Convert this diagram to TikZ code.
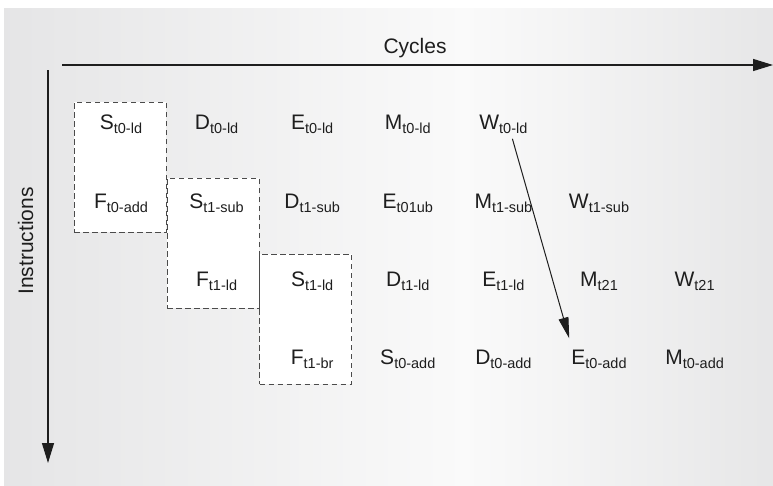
\documentclass[tikz,border=0pt]{standalone}
\usepackage{fontspec}
\setmainfont{Liberation Sans}
\usetikzlibrary{arrows.meta,calc}
\definecolor{bgleft}{RGB}{212,212,214}
\definecolor{bgright}{RGB}{206,206,208}
\definecolor{bgmid}{RGB}{250,250,250}
\definecolor{ink}{RGB}{30,30,30}
\definecolor{dashc}{RGB}{75,75,75}
\pgfdeclarehorizontalshading{bgsh}{100bp}{color(0bp)=(bgleft); color(55bp)=(bgmid); color(100bp)=(bgright)}
\newcommand{\sbs}[1]{\raisebox{-4.5pt}{\fontsize{14.5}{16}\selectfont #1}}
\begin{document}
\begin{tikzpicture}[x=1pt,y=-1pt,
  stage/.style={anchor=base,inner sep=1pt,text=ink,font=\fontsize{21}{24}\selectfont},
  axislabel/.style={anchor=base,inner sep=0pt,text=ink,font=\fontsize{21}{24}\selectfont},
  dashbox/.style={draw=dashc,fill=white,line width=0.9pt,dash pattern=on 5.5pt off 3.5pt,
    minimum width=92pt,minimum height=130pt,inner sep=0pt},
  axis/.style={draw=ink,line width=1.3pt,-{Triangle[length=20pt,width=12pt]}},
  dep/.style={draw=ink,line width=1pt,-{Triangle[length=21pt,width=10pt]}}]
\useasboundingbox (0,0) rectangle (773,485);
\shade[shading=bgsh] (4,8) rectangle (773,485);
% dashed boxes
\node[dashbox] (box1) at (120,167) {};
\node[dashbox] (box2) at (213,243) {};
\node[dashbox] (box3) at (305.5,319) {};
% axes
\coordinate (hx0) at (62,65);
\coordinate (hx1) at (773,65);
\coordinate (vy0) at (48,70);
\coordinate (vy1) at (48,463);
\draw[axis] (hx0) -- (hx1);
\draw[axis] (vy0) -- (vy1);
\node[axislabel] (cyc) at (415,53) {Cycles};
\node[axislabel,rotate=90] (ins) at (33,241) {Instructions};
% row 1
\node[stage] (s1) at (121,129) {S\sbs{t0-ld}};
\node[stage] (d1) at (216.6,129) {D\sbs{t0-ld}};
\node[stage] (e1) at (312.2,129) {E\sbs{t0-ld}};
\node[stage] (m1) at (407.8,129) {M\sbs{t0-ld}};
\node[stage] (w1) at (503.4,129) {W\sbs{t0-ld}};
% row 2
\node[stage] (f2) at (121,208) {F\sbs{t0-add}};
\node[stage] (s2) at (216.6,208) {S\sbs{t1-sub}};
\node[stage] (d2) at (312.2,208) {D\sbs{t1-sub}};
\node[stage] (e2) at (407.8,208) {E\sbs{t01ub}};
\node[stage] (m2) at (503.4,208) {M\sbs{t1-sub}};
\node[stage] (w2) at (599,208) {W\sbs{t1-sub}};
% row 3
\node[stage] (f3) at (216.6,286) {F\sbs{t1-ld}};
\node[stage] (s3) at (312.2,286) {S\sbs{t1-ld}};
\node[stage] (d3) at (407.8,286) {D\sbs{t1-ld}};
\node[stage] (e3) at (503.4,286) {E\sbs{t1-ld}};
\node[stage] (m3) at (599,286) {M\sbs{t21}};
\node[stage] (w3) at (694.6,286) {W\sbs{t21}};
% row 4
\node[stage] (f4) at (312.2,364) {F\sbs{t1-br}};
\node[stage] (s4) at (407.8,364) {S\sbs{t0-add}};
\node[stage] (d4) at (503.4,364) {D\sbs{t0-add}};
\node[stage] (e4) at (599,364) {E\sbs{t0-add}};
\node[stage] (m4) at (694.6,364) {M\sbs{t0-add}};
% dependency arrow
\draw[dep] ($(w1.south)+(9,4)$) -- ($(e4.north west)+(-1,-10)$);
\end{tikzpicture}
\end{document}
